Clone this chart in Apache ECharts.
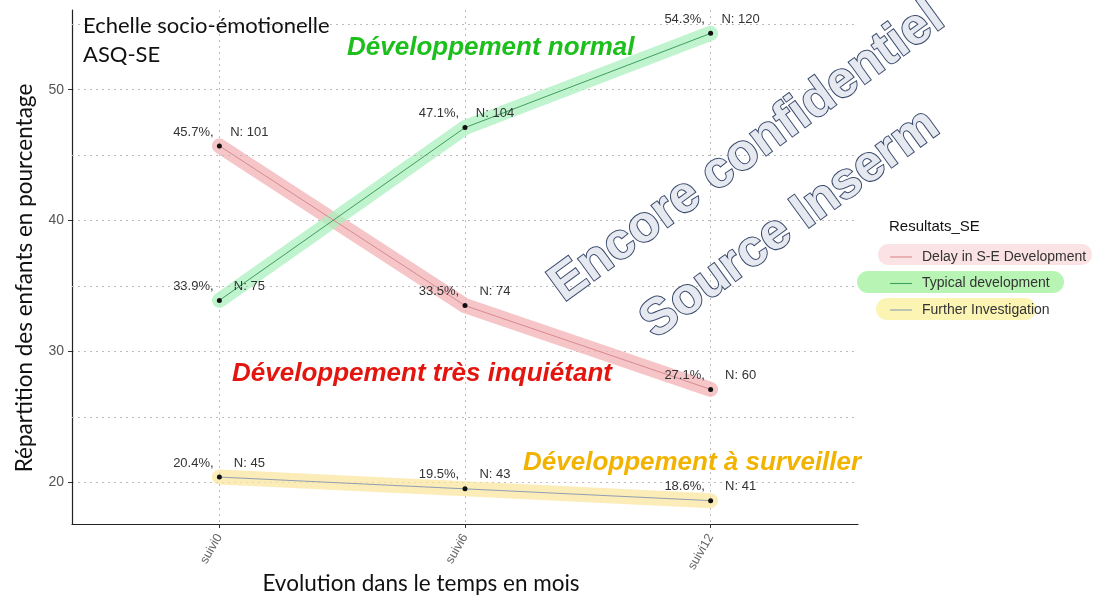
<!DOCTYPE html>
<html>
<head>
<meta charset="utf-8">
<script src="https://cdn.jsdelivr.net/npm/echarts@6/dist/echarts.min.js"></script>
<style>
  html, body { margin: 0; padding: 0; background: #fff; }
  #chart { width: 1095px; height: 601px; }
</style>
</head>
<body>
<div id="chart"></div>
<script>
// categories (x) and values
const categories = ['suivi0', 'suivi6', 'suivi12'];
const seriesNames = ['Delay in S-E Development', 'Typical development', 'Further Investigation'];
const delayPct = [45.7, 33.5, 27.1];
const delayN = [101, 74, 60];
const typicalPct = [33.9, 47.1, 54.3];
const typicalN = [75, 104, 120];
const furtherPct = [20.4, 19.5, 18.6];
const furtherN = [45, 43, 41];
const yTicks = [20, 30, 40, 50];
const yMinorGrid = [25, 35, 45, 55];
const xTicks = [0, 1, 2];

const FONT = 'Liberation Sans';
const SLIDE_FONT = 'Lato';
const gridColor = '#bdbdbd';

// ggplot-like 5% expansion of the y range
const allPct = delayPct.concat(typicalPct, furtherPct);
const lo = Math.min.apply(null, allPct), hi = Math.max.apply(null, allPct);
const pad = (hi - lo) * 0.05;

function pairs(vals) {
  return vals.map((v, i) => [i, v]);
}

function bandSeries(vals, color) {
  return {
    type: 'line',
    data: pairs(vals),
    symbol: 'none',
    silent: true,
    z: 1,
    lineStyle: { width: 15, color: color, opacity: 0.75, cap: 'round', join: 'round' }
  };
}

function mainSeries(name, vals, ns, color) {
  return {
    type: 'line',
    name: name,
    data: pairs(vals),
    symbol: 'circle',
    symbolSize: 5,
    z: 3,
    color: color,
    itemStyle: { color: '#111' },
    lineStyle: { width: 1, color: color },
    label: {
      show: true,
      position: 'top',
      distance: 5,
      offset: [2, 0],
      formatter: p => '{a|' + vals[p.dataIndex] + '%,}{g|}{b|N: ' + ns[p.dataIndex] + '}',
      rich: {
        a: { width: 46, align: 'right', fontSize: 13, color: '#333', fontFamily: FONT },
        g: { width: 10 },
        b: { width: 46, align: 'left', fontSize: 13, color: '#333', fontFamily: FONT }
      }
    }
  };
}

const chart = echarts.init(document.getElementById('chart'));

const bandFirst = bandSeries(delayPct, '#f2b1b6');
bandFirst.markLine = {
  silent: true,
  symbol: 'none',
  label: { show: false },
  lineStyle: { color: gridColor, type: [2, 4], width: 1 },
  data: yMinorGrid.map(v => ({ yAxis: v }))
};
bandFirst.z = 0;

const lineColors = ['#d98a8f', '#3f9f5c', '#8f9fb3'];

const option = {
  animation: false,
  backgroundColor: '#fff',
  textStyle: { fontFamily: FONT },
  grid: { left: 72, right: 237, top: 10, bottom: 77, outerBoundsMode: 'none', containLabel: false },
  xAxis: {
    type: 'value',
    min: -0.6,
    max: 2.6,
    name: 'Evolution dans le temps en mois',
    nameLocation: 'middle',
    nameGap: 48,
    nameMoveOverlap: false,
    nameTextStyle: { fontSize: 22.5, color: '#111', fontFamily: SLIDE_FONT, padding: [0, 88, 0, 0] },
    axisLine: { show: true, onZero: false, lineStyle: { color: '#222', width: 1.2 } },
    axisTick: { show: true, customValues: xTicks, length: 4, lineStyle: { color: '#333' } },
    axisLabel: {
      customValues: xTicks,
      formatter: v => categories[Math.round(v)],
      rotate: 60,
      margin: 11,
      fontSize: 12.5,
      color: '#666'
    },
    splitLine: { show: true, lineStyle: { color: gridColor, type: [2, 4], width: 1 } }
  },
  yAxis: {
    type: 'value',
    min: lo - pad,
    max: hi + pad,
    name: 'Répartition des enfants en pourcentage',
    nameLocation: 'middle',
    nameGap: 36,
    nameTextStyle: { fontSize: 22.5, color: '#111', fontFamily: SLIDE_FONT, padding: [0, 22, 0, 0] },
    axisLine: { show: true, onZero: false, lineStyle: { color: '#222', width: 1.2 } },
    axisTick: { show: true, customValues: yTicks, length: 4, lineStyle: { color: '#333' } },
    axisLabel: { customValues: yTicks, margin: 8, fontSize: 14, color: '#555' },
    splitLine: { show: true, lineStyle: { color: gridColor, type: [2, 4], width: 1 } }
  },
  title: {
    text: 'Resultats_SE',
    left: 884,
    top: 214,
    textStyle: { fontSize: 15, fontWeight: 'normal', color: '#111', fontFamily: FONT }
  },
  legend: {
    orient: 'vertical',
    left: 885,
    top: 244,
    z: 10,
    icon: 'path://M0 0H20V1H0Z',
    itemWidth: 22,
    itemHeight: 1.5,
    itemGap: 10.5,
    textStyle: { fontSize: 14, color: '#333', lineHeight: 16, fontFamily: FONT, padding: [0, 0, 0, 5] },
    data: seriesNames.map((n, i) => ({ name: n, itemStyle: { color: lineColors[i] } }))
  },
  graphic: [
    // highlighter strokes behind the legend keys
    { type: 'rect', z: 0, shape: { x: 878, y: 244, width: 214, height: 21, r: 10 }, style: { fill: '#fbe2e5' } },
    { type: 'rect', z: 0, shape: { x: 857, y: 271, width: 207, height: 22, r: 11 }, style: { fill: '#b8f5b5' } },
    { type: 'rect', z: 0, shape: { x: 876, y: 298, width: 160, height: 22, r: 11 }, style: { fill: '#fbf4b3' } },
    // slide annotations
    { type: 'text', z: 50, x: 83, y: 11,
      style: { text: 'Echelle socio-émotionelle\nASQ-SE', fill: '#111', font: '22px ' + SLIDE_FONT, lineHeight: 29 } },
    { type: 'text', z: 50, x: 347, y: 48,
      style: { text: 'Développement normal', fill: '#1cbf1c', font: 'italic bold 26px ' + FONT, verticalAlign: 'middle' } },
    { type: 'text', z: 50, x: 232, y: 374,
      style: { text: 'Développement très inquiétant', fill: '#e3160f', font: 'italic bold 26px ' + FONT, verticalAlign: 'middle' } },
    { type: 'text', z: 50, x: 523, y: 463,
      style: { text: 'Développement à surveiller', fill: '#f2b300', font: 'italic bold 26px ' + FONT, verticalAlign: 'middle' } },
    // watermark
    { type: 'text', z: 100, x: 747, y: 152, rotation: 36 * Math.PI / 180,
      style: { text: 'Encore confidentiel', fill: '#e6eaf0', stroke: '#3a4a6d', lineWidth: 2,
               font: 'bold 51px ' + FONT, align: 'center', verticalAlign: 'middle' } },
    { type: 'text', z: 100, x: 790, y: 224, rotation: 36 * Math.PI / 180,
      style: { text: 'Source Inserm', fill: '#e6eaf0', stroke: '#3a4a6d', lineWidth: 2,
               font: 'bold 51px ' + FONT, align: 'center', verticalAlign: 'middle' } }
  ],
  series: [
    bandFirst,
    bandSeries(typicalPct, '#a9f0bd'),
    bandSeries(furtherPct, '#f9e6a0'),
    mainSeries(seriesNames[0], delayPct, delayN, lineColors[0]),
    mainSeries(seriesNames[1], typicalPct, typicalN, lineColors[1]),
    mainSeries(seriesNames[2], furtherPct, furtherN, lineColors[2])
  ]
};

chart.setOption(option);
</script>
</body>
</html>
